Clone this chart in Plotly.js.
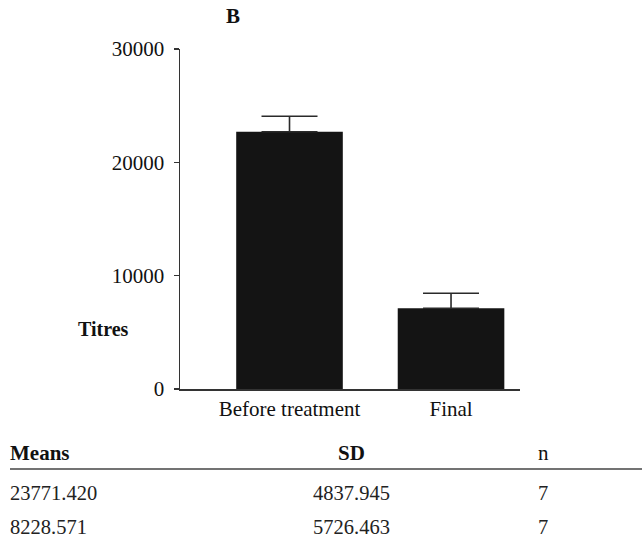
<!DOCTYPE html>
<html>
<head>
<meta charset="utf-8">
<script src="https://cdn.plot.ly/plotly-3.0.1.min.js"></script>
<style>
  html, body { margin: 0; padding: 0; background: #fff; }
  #chart { width: 642px; height: 541px; }
</style>
</head>
<body>
<div id="chart"></div>
<script>
// Chart data
const categories = ["Before treatment", "Final"];
const barValues = [22700, 7120];
const errorPlus = [1360, 1330];
const yTickValues = [0, 10000, 20000, 30000];
const yTickLabels = ["0", "10000", "20000", "30000"];

// Table below the chart
const tableHeaders = ["Means", "SD", "n"];
const tableMeans = ["23771.420", "8228.571"];
const tableSD = ["4837.945", "5726.463"];
const tableN = ["7", "7"];

const FONT = "Liberation Serif";
const INK = "#111111";

// plot area in pixels: x 180..520, y 49..389
const L = 180, T = 49, W = 340, H = 340;
const px = x => (x - L) / W;
const py = y => (T + H - y) / H;

const trace = {
  type: "bar",
  x: categories,
  y: barValues,
  width: 0.66,
  marker: { color: "#141414", line: { width: 0 } },
  error_y: {
    type: "data",
    symmetric: false,
    array: errorPlus,
    arrayminus: [0, 0],
    color: "#2a2a2a",
    thickness: 1.6,
    width: 28
  },
  hoverinfo: "skip"
};

const annotations = [];
// y-axis label
annotations.push({
  xref: "paper", yref: "paper", x: px(103), y: py(329),
  xanchor: "center", yanchor: "middle", showarrow: false,
  text: "<b>Titres</b>", font: { family: FONT, size: 20, color: INK }
});
// table header
const headerX = [px(8), px(351.5), px(543)];
const headerAnchor = ["left", "center", "center"];
tableHeaders.forEach((h, i) => {
  annotations.push({
    xref: "paper", yref: "paper", x: headerX[i], y: py(453),
    xanchor: headerAnchor[i], yanchor: "middle", showarrow: false,
    text: i < 2 ? "<b>" + h + "</b>" : h,
    font: { family: FONT, size: 21, color: INK }
  });
});
// table rows
const rowY = [py(493), py(527)];
tableMeans.forEach((v, r) => {
  [tableMeans[r], tableSD[r], tableN[r]].forEach((cell, c) => {
    annotations.push({
      xref: "paper", yref: "paper", x: headerX[c], y: rowY[r],
      xanchor: headerAnchor[c], yanchor: "middle", showarrow: false,
      text: cell, font: { family: FONT, size: 20.5, color: "#222" }
    });
  });
});

const layout = {
  width: 642, height: 541,
  margin: { l: L, r: 642 - L - W, t: T, b: 541 - T - H, pad: 0 },
  paper_bgcolor: "#ffffff",
  plot_bgcolor: "#ffffff",
  showlegend: false,
  font: { family: FONT },
  title: {
    text: "<b>B</b>",
    xref: "container", yref: "container",
    x: 233 / 642, y: 1 - 16 / 541,
    xanchor: "center", yanchor: "middle",
    font: { family: FONT, size: 21, color: INK }
  },
  xaxis: {
    type: "category",
    range: [-0.678, 1.427],
    showline: true, linecolor: "#333", linewidth: 1.5,
    ticks: "", showgrid: false, zeroline: false,
    tickfont: { family: FONT, size: 21, color: INK },
    fixedrange: true
  },
  yaxis: {
    range: [0, 30000],
    tickmode: "array",
    tickvals: yTickValues,
    ticktext: yTickLabels,
    ticks: "outside", ticklen: 5, tickwidth: 1.2, tickcolor: "#333",
    showline: true, linecolor: "#333", linewidth: 1.5,
    showgrid: false, zeroline: false,
    tickfont: { family: FONT, size: 21, color: INK },
    ticklabelstandoff: 5,
    fixedrange: true
  },
  annotations: annotations,
  shapes: [{
    type: "line", xref: "paper", yref: "paper",
    x0: px(10), x1: px(642), y0: py(469), y1: py(469),
    line: { color: "#444", width: 1.5 }
  }]
};

Plotly.newPlot("chart", [trace], layout, { displayModeBar: false, staticPlot: true });
</script>
</body>
</html>
